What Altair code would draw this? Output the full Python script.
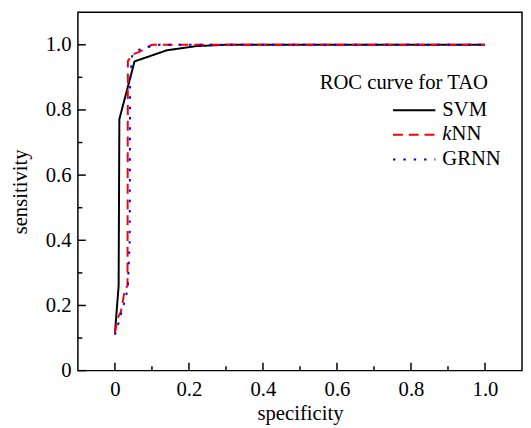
import altair as alt
import pandas as pd

series = ["SVM", "kNN", "GRNN"]
colors = ["#000000", "#ff0000", "#0000ff"]
dashes = [[1, 0], [10, 6], [2.5, 8]]

svm_x = [0.0, 0.01, 0.012, 0.053, 0.14, 0.22, 0.30, 1.0]
svm_y = [0.115, 0.26, 0.772, 0.949, 0.983, 0.996, 1.0, 1.0]

knn_x = [0.0, 0.007, 0.016, 0.027, 0.034, 0.035, 0.047, 0.069, 0.10, 1.0]
knn_y = [0.115, 0.16, 0.18, 0.25, 0.26, 0.95, 0.97, 0.98, 1.0, 1.0]

grnn_x = [0.0, 0.011, 0.02, 0.029, 0.035, 0.04, 0.041, 0.047, 0.073, 0.12, 1.0]
grnn_y = [0.11, 0.15, 0.19, 0.22, 0.26, 0.40, 0.89, 0.97, 0.99, 1.0, 1.0]

x_major = [0, 0.2, 0.4, 0.6, 0.8, 1.0]
x_minor = [0.1, 0.3, 0.5, 0.7, 0.9]
y_major = [0, 0.2, 0.4, 0.6, 0.8, 1.0]
y_minor = [0.1, 0.3, 0.5, 0.7, 0.9]

legend_title = "ROC curve for TAO"
knn_italic = "k"
knn_rest = "NN"
x_title = "specificity"
y_title = "sensitivity"

W, H = 451, 364
FONT = "Liberation Serif"
LEG_X, LEG_Y = 319, 89
SYM = 43          # legend line length
LABEL_X = LEG_X + SYM + 2 + 6   # where vega starts the legend labels
ROW2_Y = LEG_Y + 10.5 + 24

rows = []
for name, xs, ys in [("SVM", svm_x, svm_y), ("kNN", knn_x, knn_y), ("GRNN", grnn_x, grnn_y)]:
    for i, (a, b) in enumerate(zip(xs, ys)):
        rows.append({"series": name, "spec": a, "sens": b, "i": i})
df = pd.DataFrame(rows)

label_expr = "datum.value == 0 ? '0' : format(datum.value, '.1f')"
xscale = alt.Scale(domain=[-0.1, 1.1], nice=False, zero=False)
yscale = alt.Scale(domain=[0, 1.1], nice=False, zero=False)
xax = alt.Axis(values=x_major, labelExpr=label_expr, grid=False, ticks=False, domain=False,
               labelFont=FONT, labelFontSize=21, labelColor="black", labelPadding=8,
               titleFont=FONT, titleFontSize=21, titleFontWeight="normal", titleColor="black",
               titlePadding=4, labelFlush=False)
yax = alt.Axis(values=y_major, labelExpr=label_expr, grid=False, ticks=False, domain=False,
               labelFont=FONT, labelFontSize=21, labelColor="black", labelPadding=7,
               titleFont=FONT, titleFontSize=21, titleFontWeight="normal", titleColor="black",
               titlePadding=15, labelFlush=False)

# the kNN label (with italic k) is drawn as text marks beside its legend symbol
leg = alt.Legend(title=None, orient="none", legendX=LEG_X, legendY=LEG_Y, padding=0,
                 labelFont=FONT, labelFontSize=21, labelColor="black", labelOffset=6,
                 labelExpr="datum.label == 'kNN' ? '' : datum.label",
                 symbolType="stroke", symbolSize=SYM * SYM, symbolStrokeWidth=2,
                 clipHeight=21, rowPadding=3)

lines = alt.Chart(df).mark_line(strokeWidth=2).encode(
    x=alt.X("spec:Q", scale=xscale, axis=xax, title=x_title),
    y=alt.Y("sens:Q", scale=yscale, axis=yax, title=y_title),
    color=alt.Color("series:N", scale=alt.Scale(domain=series, range=colors), sort=series, legend=leg),
    strokeDash=alt.StrokeDash("series:N", scale=alt.Scale(domain=series, range=dashes), sort=series, legend=leg),
    order=alt.Order("i:Q"),
)

def xticks(vals, length):
    return alt.Chart(pd.DataFrame({"t": vals})).mark_rule(color="black", strokeWidth=1.5).encode(
        x=alt.X("t:Q", scale=xscale, axis=xax, title=x_title),
        y=alt.value(H), y2=alt.value(H - length))

def yticks(vals, length):
    return alt.Chart(pd.DataFrame({"t": vals})).mark_rule(color="black", strokeWidth=1.5).encode(
        y=alt.Y("t:Q", scale=yscale, axis=yax, title=y_title),
        x=alt.value(0), x2=alt.value(length))

def text(s, x, y, align="left", baseline="middle", style="normal"):
    return alt.Chart(pd.DataFrame({"a": [0]})).mark_text(
        font=FONT, fontSize=21, fontStyle=style, color="black", align=align, baseline=baseline
    ).encode(x=alt.value(x), y=alt.value(y), text=alt.value(s))

chart = alt.layer(
    xticks(x_major, 8), xticks(x_minor, 4.5), yticks(y_major, 8), yticks(y_minor, 4.5),
    lines,
    text(legend_title, 331, 78, align="center", baseline="alphabetic"),
    text(knn_italic, LABEL_X, ROW2_Y, style="italic"),
    text(knn_rest, LABEL_X + 9.5, ROW2_Y),
).properties(
    width=W, height=H,
    autosize=alt.AutoSizeParams(type="none"),
    padding={"left": 71, "top": 1, "right": 1, "bottom": 55},
).configure_view(stroke="black", strokeWidth=1.5)

chart.save("out.html", embed_options={"renderer": "svg", "actions": False})
